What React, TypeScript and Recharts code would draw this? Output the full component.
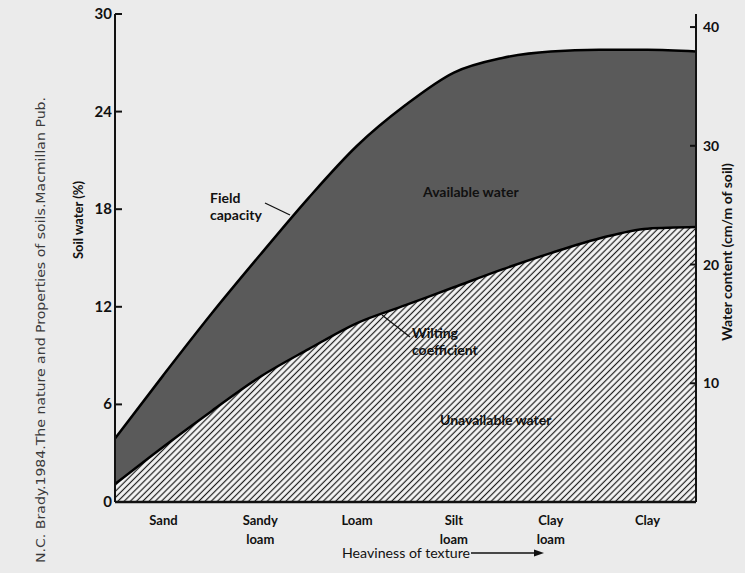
import React from "react";
import { Area, ComposedChart, XAxis, YAxis } from "recharts";

// position along the texture axis (0 = left edge, 6 = right edge)
const texturePos = [0, 0.5, 1, 1.5, 2, 2.5, 3, 3.5, 4, 4.5, 5, 5.5, 6];
// soil water (%)
const fieldCapacity = [3.9, 7.8, 11.6, 15.2, 18.7, 21.9, 24.4, 26.4, 27.3, 27.7, 27.8, 27.8, 27.7];
const wiltingCoefficient = [1.1, 3.4, 5.6, 7.7, 9.4, 11.0, 12.1, 13.2, 14.3, 15.3, 16.2, 16.8, 16.9];

const textureTicks = [0.5, 1.5, 2.5, 3.5, 4.5, 5.5];
const textureLabels = [["Sand"], ["Sandy", "loam"], ["Loam"], ["Silt", "loam"], ["Clay", "loam"], ["Clay"]];
const soilWaterTicks = [0, 6, 12, 18, 24, 30];
const waterContentTicks = [10, 20, 30, 40];

const data = texturePos.map((x, i) => ({
  x,
  fc: fieldCapacity[i],
  wc: wiltingCoefficient[i],
}));

const W = 745;
const H = 573;
const FONT = "Lato, 'Open Sans', sans-serif";
const INK = "#111";

function LeftTick({ x, y, payload }: any) {
  return (
    <g>
      <line x1={x + 4} x2={x + 11} y1={y} y2={y} stroke={INK} strokeWidth={2} />
      <text x={x + 1} y={y + 5} textAnchor="end" fontFamily={FONT} fontWeight={700} fontSize={15} fill={INK}>
        {payload.value}
      </text>
    </g>
  );
}

function RightTick({ x, y, payload }: any) {
  return (
    <g>
      <line x1={x - 6} x2={x - 13} y1={y} y2={y} stroke={INK} strokeWidth={2} />
      <text x={x} y={y + 5} textAnchor="start" fontFamily={FONT} fontWeight={700} fontSize={14} fill={INK}>
        {payload.value}
      </text>
    </g>
  );
}

function TextureTick({ x, y, index }: any) {
  const lines = textureLabels[index] ?? [];
  return (
    <text x={x} y={y} textAnchor="middle" fontFamily={FONT} fontWeight={700} fontSize={13} fill={INK}>
      {lines.map((l, i) => (
        <tspan key={l} x={x} dy={19}>
          {l}
        </tspan>
      ))}
    </text>
  );
}

export default function App() {
  return (
    <div style={{ position: "absolute", left: 0, top: 0, width: W, height: H, background: "#ebebeb" }}>
      <svg width={0} height={0} style={{ position: "absolute" }}>
        <defs>
          <pattern id="hatch" patternUnits="userSpaceOnUse" width={4.4} height={4.4} patternTransform="rotate(45)">
            <rect width={4.4} height={4.4} fill="#f5f5f5" />
            <line x1={2.2} y1={0} x2={2.2} y2={4.4} stroke="#1c1c1c" strokeWidth={1.2} />
          </pattern>
        </defs>
      </svg>
      <ComposedChart width={W} height={H} data={data} margin={{ top: 14, right: 10, left: 75, bottom: 21 }}>
        <XAxis
          dataKey="x"
          type="number"
          domain={[0, 6]}
          ticks={textureTicks}
          tick={<TextureTick />}
          tickLine={false}
          tickSize={0}
          tickMargin={4}
          axisLine={{ stroke: INK, strokeWidth: 2.5 }}
          height={50}
        />
        <YAxis
          yAxisId="left"
          type="number"
          domain={[0, 30]}
          ticks={soilWaterTicks}
          tick={<LeftTick />}
          tickLine={false}
          tickSize={0}
          tickMargin={4}
          axisLine={{ stroke: INK, strokeWidth: 2 }}
          width={40}
        />
        <YAxis
          yAxisId="right"
          orientation="right"
          type="number"
          domain={[0, 41.1]}
          allowDataOverflow
          ticks={waterContentTicks}
          tick={<RightTick />}
          tickLine={false}
          tickSize={0}
          tickMargin={7}
          axisLine={{ stroke: INK, strokeWidth: 2 }}
          width={39}
        />
        <Area
          yAxisId="left"
          dataKey="fc"
          type="monotone"
          baseValue={0}
          fill="#5a5a5a"
          fillOpacity={1}
          stroke="#000"
          strokeWidth={2.5}
          dot={false}
          activeDot={false}
          isAnimationActive={false}
        />
        <Area
          yAxisId="left"
          dataKey="wc"
          type="monotone"
          baseValue={0}
          fill="url(#hatch)"
          fillOpacity={1}
          stroke="#000"
          strokeWidth={2.5}
          dot={false}
          activeDot={false}
          isAnimationActive={false}
        />
      </ComposedChart>
      <svg width={W} height={H} style={{ position: "absolute", left: 0, top: 0, pointerEvents: "none" }}>
        <text
          transform="translate(45 330) rotate(-90)"
          textAnchor="middle"
          fontFamily="'Liberation Sans Narrow', 'DejaVu Sans Condensed', sans-serif"
          fontSize={13}
          fill="#3a3a3a"
          textLength={466}
          lengthAdjust="spacingAndGlyphs"
        >
          N.C. Brady.1984.The nature and Properties of soils.Macmillan Pub.
        </text>
        <text transform="translate(83 220) rotate(-90)" textAnchor="middle" fontFamily={FONT} fontWeight={700} fontSize={13} fill={INK}>
          Soil water (%)
        </text>
        <text transform="translate(732 252) rotate(-90)" textAnchor="middle" fontFamily={FONT} fontWeight={700} fontSize={14} fill={INK}>
          Water content (cm/m of soil)
        </text>
        <g fontFamily={FONT} fontWeight={700} fontSize={14} fill={INK}>
          <text x={210} y={203}>Field</text>
          <text x={210} y={220}>capacity</text>
          <text x={423} y={197}>Available water</text>
          <text x={412} y={338}>Wilting</text>
          <text x={412} y={355}>coefficient</text>
          <text x={440} y={425}>Unavailable water</text>
        </g>
        <line x1={265} y1={203} x2={290} y2={215} stroke={INK} strokeWidth={1.3} />
        <line x1={382} y1={315} x2={410} y2={337} stroke={INK} strokeWidth={1.3} />
        <text x={342} y={558} fontFamily={FONT} fontSize={13} fill={INK} textLength={128} lengthAdjust="spacingAndGlyphs">
          Heaviness of texture
        </text>
        <line x1={471} y1={553} x2={536} y2={553} stroke={INK} strokeWidth={1.5} />
        <path d="M544 553 L534 549.5 L534 556.5 Z" fill={INK} />
      </svg>
    </div>
  );
}
